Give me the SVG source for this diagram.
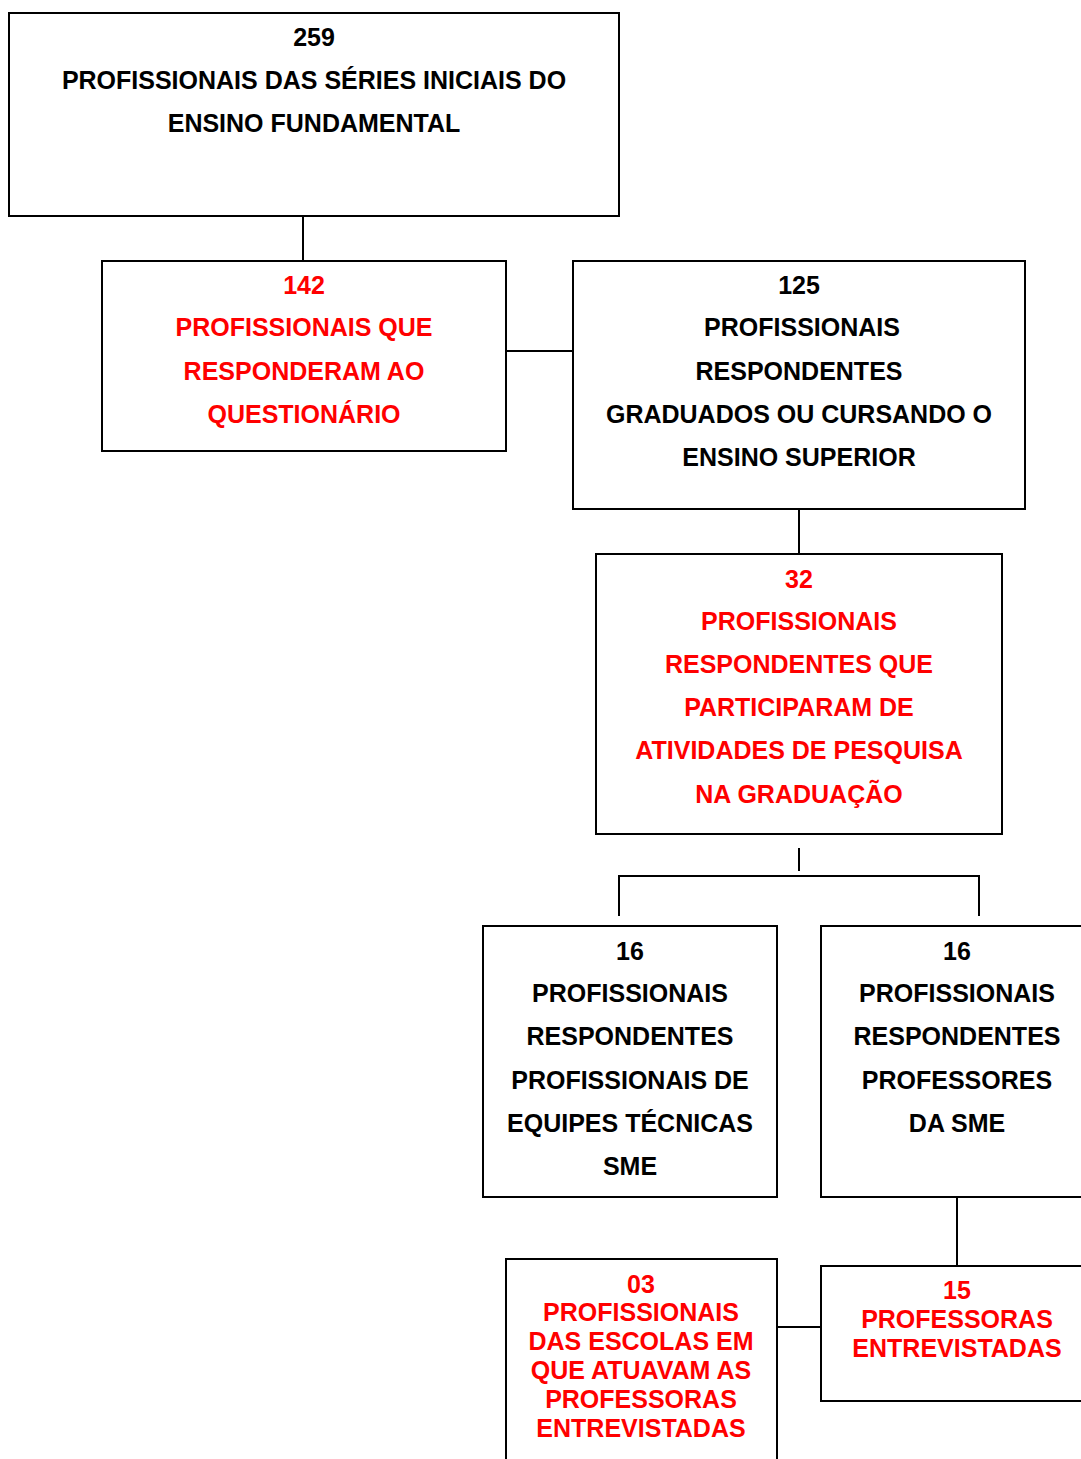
<svg xmlns="http://www.w3.org/2000/svg" width="1081" height="1459" viewBox="0 0 1081 1459">
<style>
.box{fill:#fff;stroke:#000;stroke-width:2}
.t{font-family:"Liberation Sans",Arial,sans-serif;font-weight:bold;font-size:25px;text-anchor:middle}
.k{fill:#000}
.r{fill:#ff0000}
.c{stroke:#000;stroke-width:2;fill:none}
</style>
<rect width="1081" height="1459" fill="#fff"/>
<g id="connectors">
<line class="c" x1="303" y1="216" x2="303" y2="261"/>
<line class="c" x1="506" y1="351" x2="573" y2="351"/>
<line class="c" x1="799" y1="509" x2="799" y2="554"/>
<line class="c" x1="799" y1="848" x2="799" y2="871"/>
<polyline class="c" points="619,916 619,876 979,876 979,916"/>
<line class="c" x1="957" y1="1197" x2="957" y2="1266"/>
<line class="c" x1="777" y1="1327" x2="821" y2="1327"/>
</g>
<g id="n259">
<rect class="box" x="9" y="13" width="610" height="203"/>
<text class="t k" x="314" y="46">259</text>
<text class="t k" x="314" y="89">PROFISSIONAIS DAS SÉRIES INICIAIS DO</text>
<text class="t k" x="314" y="132">ENSINO FUNDAMENTAL</text>
</g>
<g id="n142">
<rect class="box" x="102" y="261" width="404" height="190"/>
<text class="t r" x="304" y="294">142</text>
<text class="t r" x="304" y="336">PROFISSIONAIS QUE</text>
<text class="t r" x="304" y="380">RESPONDERAM AO</text>
<text class="t r" x="304" y="423">QUESTIONÁRIO</text>
</g>
<g id="n125">
<rect class="box" x="573" y="261" width="452" height="248"/>
<text class="t k" x="799" y="294">125</text>
<text class="t k" x="802" y="336">PROFISSIONAIS</text>
<text class="t k" x="799" y="380">RESPONDENTES</text>
<text class="t k" x="799" y="423">GRADUADOS OU CURSANDO O</text>
<text class="t k" x="799" y="466">ENSINO SUPERIOR</text>
</g>
<g id="n32">
<rect class="box" x="596" y="554" width="406" height="280"/>
<text class="t r" x="799" y="588">32</text>
<text class="t r" x="799" y="630">PROFISSIONAIS</text>
<text class="t r" x="799" y="673">RESPONDENTES QUE</text>
<text class="t r" x="799" y="716">PARTICIPARAM DE</text>
<text class="t r" x="799" y="759">ATIVIDADES DE PESQUISA</text>
<text class="t r" x="799" y="803">NA GRADUAÇÃO</text>
</g>
<g id="n16a">
<rect class="box" x="483" y="926" width="294" height="271"/>
<text class="t k" x="630" y="960">16</text>
<text class="t k" x="630" y="1002">PROFISSIONAIS</text>
<text class="t k" x="630" y="1045">RESPONDENTES</text>
<text class="t k" x="630" y="1089">PROFISSIONAIS DE</text>
<text class="t k" x="630" y="1132">EQUIPES TÉCNICAS</text>
<text class="t k" x="630" y="1175">SME</text>
</g>
<g id="n16b">
<rect class="box" x="821" y="926" width="270" height="271"/>
<text class="t k" x="957" y="960">16</text>
<text class="t k" x="957" y="1002">PROFISSIONAIS</text>
<text class="t k" x="957" y="1045">RESPONDENTES</text>
<text class="t k" x="957" y="1089">PROFESSORES</text>
<text class="t k" x="957" y="1132">DA SME</text>
</g>
<g id="n15">
<rect class="box" x="821" y="1266" width="270" height="135"/>
<text class="t r" x="957" y="1299">15</text>
<text class="t r" x="957" y="1328">PROFESSORAS</text>
<text class="t r" x="957" y="1357">ENTREVISTADAS</text>
</g>
<g id="n03">
<rect class="box" x="506" y="1259" width="271" height="210"/>
<text class="t r" x="641" y="1293">03</text>
<text class="t r" x="641" y="1321">PROFISSIONAIS</text>
<text class="t r" x="641" y="1350">DAS ESCOLAS EM</text>
<text class="t r" x="641" y="1379">QUE ATUAVAM AS</text>
<text class="t r" x="641" y="1408">PROFESSORAS</text>
<text class="t r" x="641" y="1437">ENTREVISTADAS</text>
</g>
</svg>
